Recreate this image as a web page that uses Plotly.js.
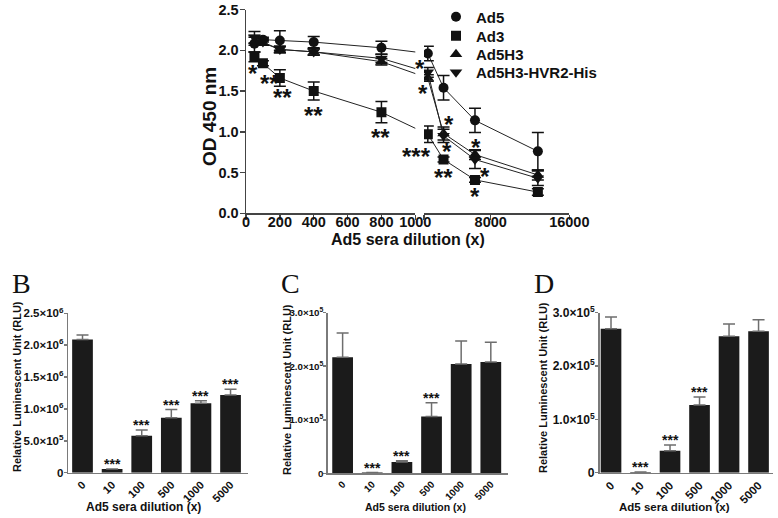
<!DOCTYPE html>
<html><head><meta charset="utf-8">
<script src="https://cdn.plot.ly/plotly-3.0.1.min.js"></script>
<style>html,body{margin:0;padding:0;background:#fff;} #chart{width:778px;height:518px;}</style>
</head><body><div id="chart"></div>
<script>
// ---------- Panel A data (OD 450 nm vs Ad5 sera dilution) ----------
const dilutions = [50, 100, 200, 400, 800, 1600, 3200, 6400, 12800];
const ad5      = [2.08, 2.13, 2.12, 2.10, 2.03, 1.96, 1.54, 1.14, 0.76];
const ad5Err   = [0.10, 0.03, 0.12, 0.07, 0.08, 0.09, 0.15, 0.15, 0.23];
const ad3      = [1.92, 1.84, 1.66, 1.50, 1.24, 0.97, 0.66, 0.41, 0.26];
const ad3Err   = [0.06, 0.03, 0.10, 0.11, 0.13, 0.10, 0.03, 0.03, 0.04];
const ad5h3    = [2.11, 2.09, 2.01, 1.98, 1.86, 1.66, 0.98, 0.72, 0.47];
const ad5h3Err = [0.05, 0.03, 0.04, 0.04, 0.04, 0.04, 0.08, 0.06, 0.06];
const hvr2     = [2.16, 2.10, 2.01, 1.98, 1.90, 1.73, 0.95, 0.66, 0.43];
const hvr2Err  = [0.07, 0.04, 0.04, 0.04, 0.05, 0.06, 0.08, 0.11, 0.09];
const seriesNames = ['Ad5', 'Ad3', 'Ad5H3', 'Ad5H3-HVR2-His'];
const xTicksSeg1 = [0, 200, 400, 600, 800, 1000];
const xTicksSeg2 = [8000, 16000];

// ---------- Panels B, C, D data (RLU) ----------
const barCategories = ['0', '10', '100', '500', '1000', '5000'];
const panelB    = [2.09e6, 0.058e6, 0.58e6, 0.86e6, 1.09e6, 1.22e6];
const panelBErr = [0.07e6, 0, 0.09e6, 0.13e6, 0.04e6, 0.09e6];
const panelBSig = ['', '***', '***', '***', '***', '***'];
const panelC    = [2.17e5, 0.015e5, 0.21e5, 1.06e5, 2.04e5, 2.08e5];
const panelCErr = [0.45e5, 0, 0.025e5, 0.26e5, 0.43e5, 0.37e5];
const panelCSig = ['', '***', '***', '***', '', ''];
const panelD    = [2.70e5, 0.015e5, 0.41e5, 1.27e5, 2.56e5, 2.65e5];
const panelDErr = [0.22e5, 0, 0.11e5, 0.15e5, 0.23e5, 0.22e5];
const panelDSig = ['', '***', '***', '***', '', ''];
const bTicks = [0, 5e5, 1e6, 1.5e6, 2e6, 2.5e6];
const cdTicks = [0, 1e5, 2e5, 3e5];
const xTitleText = 'Ad5 sera dilution (x)';
const rluTitleText = 'Relative Luminescent Unit (RLU)';

// ---------- geometry helpers ----------
const W = 778, H = 518;
const fx = p => p / W;
const fy = p => 1 - p / H;
const FONT = 'Liberation Sans, Arial, sans-serif';
const bold = (size, extra) => Object.assign({family: FONT, size: size, weight: 'bold', color: '#111'}, extra || {});

// broken x axis of panel A (pixel placement of both segments)
const seg1 = {p0: 246, p1: 415.3, min: 0, max: 1000};
const seg2 = {p0: 424, p1: 569.3, min: 1211, max: 16000};
const k1 = (seg1.p1 - seg1.p0) / (seg1.max - seg1.min);
const k2 = (seg2.p1 - seg2.p0) / (seg2.max - seg2.min);
// express a value that lies on segment 2 in segment-1 units (so the connecting line keeps its slope across the break)
function toSeg1(x) {
  if (x <= seg1.max) return x;
  const p = seg2.p0 + (x - seg2.min) * k2;
  return seg1.min + (p - seg1.p0) / k1;
}
const breakIdx = dilutions.findIndex(d => d > seg1.max);

const specs = [
  {name: seriesNames[0], y: ad5,   e: ad5Err,   symbol: 'circle',        size: 10},
  {name: seriesNames[1], y: ad3,   e: ad3Err,   symbol: 'square',        size: 10},
  {name: seriesNames[2], y: ad5h3, e: ad5h3Err, symbol: 'triangle-up',   size: 11},
  {name: seriesNames[3], y: hvr2,  e: hvr2Err,  symbol: 'triangle-down', size: 11},
];

const traces = [];
const errStyle = {type: 'data', color: '#111', thickness: 1.5, width: 6, visible: true};
specs.forEach(s => {
  traces.push({
    type: 'scatter', mode: 'lines+markers', xaxis: 'x', yaxis: 'y', showlegend: false,
    x: dilutions.slice(0, breakIdx + 1).map(toSeg1),
    y: s.y.slice(0, breakIdx + 1),
    error_y: Object.assign({array: s.e.slice(0, breakIdx).concat([0])}, errStyle),
    marker: {symbol: s.symbol, size: s.size, color: '#111'},
    line: {color: '#222', width: 1}, hoverinfo: 'skip'
  });
  traces.push({
    type: 'scatter', mode: 'lines+markers', xaxis: 'x2', yaxis: 'y', showlegend: false,
    x: dilutions.slice(breakIdx), y: s.y.slice(breakIdx),
    error_y: Object.assign({array: s.e.slice(breakIdx)}, errStyle),
    marker: {symbol: s.symbol, size: s.size, color: '#111'},
    line: {color: '#222', width: 1}, hoverinfo: 'skip'
  });
});
// legend entries (one legend box per entry so the row spacing matches)
const legendIds = ['legend', 'legend2', 'legend3', 'legend4'];
specs.forEach((s, i) => {
  traces.push({
    type: 'scatter', mode: 'markers', xaxis: 'x', yaxis: 'y', name: s.name, legend: legendIds[i],
    x: [null], y: [null], marker: {symbol: s.symbol, size: s.size, color: '#111'}
  });
});

// bar panels (each sub-figure in the source was scaled a little differently)
const bars = [
  {v: panelB, e: panelBErr, sig: panelBSig, xa: 'x3', ya: 'y3'},
  {v: panelC, e: panelCErr, sig: panelCSig, xa: 'x4', ya: 'y4'},
  {v: panelD, e: panelDErr, sig: panelDSig, xa: 'x5', ya: 'y5'},
];
bars.forEach(b => {
  traces.push({
    type: 'bar', x: barCategories, y: b.v, xaxis: b.xa, yaxis: b.ya, width: 0.7,
    marker: {color: '#1b1b1b', line: {width: 0}}, showlegend: false,
    error_y: {type: 'data', symmetric: false, array: b.e, arrayminus: b.e.map(() => 0),
              color: '#6e6e6e', thickness: 1.5, width: 6}
  });
});

// ---------- annotations ----------
const annotations = [];
// significance stars for panel A: [text, series, index, xshift, yshift]
const starA = [
  ['*',   ad3, 0, -1.5, -16.6], ['**', ad3, 1, 7, -20], ['**', ad3, 2, 3, -20],
  ['**',  ad3, 3, 0, -24.5],    ['**', ad3, 4, -1, -25.5], ['***', ad3, 5, -11, -22],
  ['**',  ad3, 6, 0, -17.5],    ['*',  ad3, 7, 0, -17],
  ['*', hvr2, 5, -8, 4], ['*', ad5h3, 5, -5, -16],
  ['*', ad5h3, 6, 5, 9], ['*', hvr2, 6, 3.5, -16],
  ['*', ad5h3, 7, 1, 7], ['*', hvr2, 7, 10, -17],
];
starA.forEach(([t, s, i, dx, dy]) => {
  annotations.push({
    text: t, x: dilutions[i], y: s[i], xref: i < breakIdx ? 'x' : 'x2', yref: 'y',
    showarrow: false, xanchor: 'center', yanchor: 'middle', xshift: dx, yshift: dy, font: bold(24)
  });
});
// stars above bars (category axes take the category index)
bars.forEach(b => {
  b.sig.forEach((t, i) => {
    if (!t) return;
    annotations.push({
      text: t, x: i, y: b.v[i] + b.e[i], xref: b.xa, yref: b.ya,
      showarrow: false, xanchor: 'center', yanchor: 'bottom', yshift: -5, font: bold(14)
    });
  });
});
// panel A axis titles
annotations.push({
  text: xTitleText, xref: 'paper', yref: 'paper',
  x: fx((seg1.p0 + seg2.p1) / 2), y: fy(240), xanchor: 'center', yanchor: 'middle', showarrow: false, font: bold(16)
});
annotations.push({
  text: 'OD 450 nm', xref: 'paper', yref: 'paper', textangle: -90,
  x: fx(209), y: fy(117), xanchor: 'center', yanchor: 'middle', showarrow: false, font: bold(19)
});
// axis titles of panels B, C, D: [x-title centre, x-title size, y-title centre x, y-title centre y]
[[143, 12, 17, 387], [415, 10.5, 287, 390], [674.5, 11.5, 543, 388]].forEach(([cx, fs, ty, tcy]) => {
  annotations.push({
    text: xTitleText, xref: 'paper', yref: 'paper', x: fx(cx), y: fy(507),
    xanchor: 'center', yanchor: 'middle', showarrow: false, font: bold(fs)
  });
  annotations.push({
    text: rluTitleText, xref: 'paper', yref: 'paper', x: fx(ty), y: fy(tcy), textangle: -90,
    xanchor: 'center', yanchor: 'middle', showarrow: false, font: bold(11)
  });
});
// panel letters
[['B', 21.7], ['C', 290], ['D', 544]].forEach(([t, x]) => {
  annotations.push({
    text: t, xref: 'paper', yref: 'paper', x: fx(x), y: fy(283), xanchor: 'center', yanchor: 'middle',
    showarrow: false, font: {family: 'Liberation Serif, Times New Roman, serif', size: 28, color: '#111'}
  });
});

// ---------- axes ----------
const sci = v => {
  if (v === 0) return '0';
  const e = Math.floor(Math.log10(v) + 1e-9);
  return (v / Math.pow(10, e)).toFixed(1) + '×10<sup>' + e + '</sup>';
};
const axA = {
  showgrid: false, zeroline: false, showline: true, linecolor: '#444', linewidth: 1.5,
  ticks: 'outside', ticklen: 5, tickwidth: 1.5, tickcolor: '#444', tickfont: bold(14.5)
};
const axBx = f => ({
  type: 'category', showgrid: false, zeroline: false, showline: true, linecolor: '#7a7a7a', linewidth: 1.5,
  ticks: '', tickangle: -45, tickfont: bold(11 * f)
});
const axBy = f => ({
  showgrid: false, zeroline: false, showline: true, linecolor: '#7a7a7a', linewidth: 1.5,
  ticks: 'outside', ticklen: 3, tickwidth: 1.5, tickcolor: '#7a7a7a', tickfont: bold(11.5 * f),
  ticklabelstandoff: -2
});

const legendBase = {x: fx(436), xanchor: 'left', yanchor: 'middle', bgcolor: 'rgba(0,0,0,0)', font: bold(15)};

const layout = {
  width: W, height: H, margin: {l: 0, r: 0, t: 0, b: 0},
  paper_bgcolor: '#fff', plot_bgcolor: 'rgba(0,0,0,0)',
  font: {family: FONT, color: '#111'},
  xaxis: Object.assign({}, axA, {domain: [fx(seg1.p0), fx(seg1.p1)], range: [seg1.min, seg1.max],
    tickvals: xTicksSeg1, anchor: 'y', ticklabelstandoff: -10}),
  xaxis2: Object.assign({}, axA, {domain: [fx(seg2.p0), fx(seg2.p1)], range: [seg2.min, seg2.max],
    tickvals: [seg2.min].concat(xTicksSeg2), ticktext: [''].concat(xTicksSeg2.map(String)), anchor: 'y',
    ticklabelstandoff: -10}),
  yaxis: Object.assign({}, axA, {domain: [fy(213.3), fy(9.5)], range: [0, 2.5], dtick: 0.5, tickformat: '.1f',
    anchor: 'x', ticklabelstandoff: -2}),
  xaxis3: Object.assign({}, axBx(1.0), {domain: [fx(68.3), fx(248.3)], range: [-0.48, 5.6], anchor: 'y3'}),
  yaxis3: Object.assign({}, axBy(1.0), {domain: [fy(472.7), fy(313.3)], range: [0, 2.5e6], anchor: 'x3',
    tickvals: bTicks, ticktext: bTicks.map(sci)}),
  xaxis4: Object.assign({}, axBx(0.9), {domain: [fx(327.8), fx(508.3)], range: [-0.5, 5.59], anchor: 'y4'}),
  yaxis4: Object.assign({}, axBy(0.85), {domain: [fy(473.3), fy(312.7)], range: [0, 3e5], anchor: 'x4',
    tickvals: cdTicks, ticktext: cdTicks.map(sci)}),
  xaxis5: Object.assign({}, axBx(1.05), {domain: [fx(599.5), fx(773.3)], range: [-0.39, 5.5], anchor: 'y5'}),
  yaxis5: Object.assign({}, axBy(1.05), {domain: [fy(472.7), fy(312.7)], range: [0, 3e5], anchor: 'x5',
    tickvals: cdTicks, ticktext: cdTicks.map(sci)}),
  showlegend: true,
  legend:  Object.assign({}, legendBase, {y: fy(17)}),
  legend2: Object.assign({}, legendBase, {y: fy(36)}),
  legend3: Object.assign({}, legendBase, {y: fy(54.5)}),
  legend4: Object.assign({}, legendBase, {y: fy(72.5)}),
  annotations: annotations
};

Plotly.newPlot('chart', traces, layout, {displayModeBar: false, staticPlot: true});
</script>
</body></html>
